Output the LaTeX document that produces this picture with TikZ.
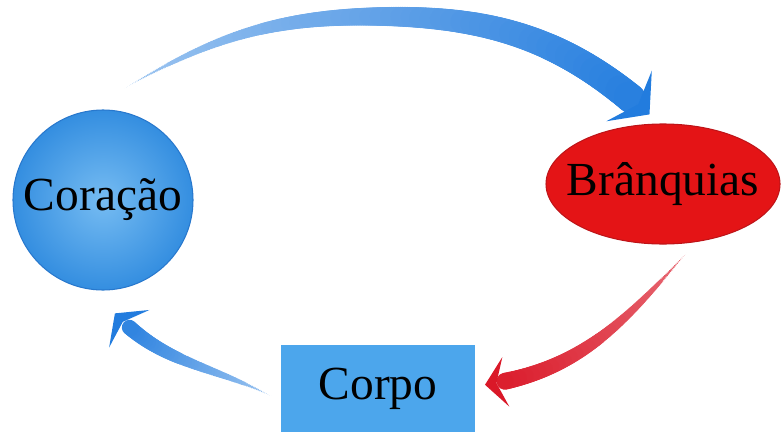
\documentclass[tikz,border=0pt]{standalone}
\usepackage{fontspec}
\setmainfont{Liberation Serif}
\usetikzlibrary{shapes.geometric,decorations.markings}

\definecolor{heartblue}{RGB}{52,142,224}
\definecolor{heartlight}{RGB}{118,188,242}
\definecolor{heartline}{RGB}{40,120,205}
\definecolor{gillred}{RGB}{228,20,22}
\definecolor{gillline}{RGB}{190,20,25}
\definecolor{bodyblue}{RGB}{76,166,236}
\definecolor{flowblue}{RGB}{34,124,222}
\definecolor{flowred}{RGB}{218,24,40}

\begin{document}
\begin{tikzpicture}[
    font=\fontsize{27}{30}\selectfont,
    organ/.style={
        inner sep=0pt,
        text=black
    },
    flow/.style n args={5}{% cor, largura, ponta (comprimento, largura), tom inicial
        preaction={decorate, decoration={markings,
            mark=between positions 0 and 1 step 1pt with {
                \pgfmathsetmacro\flowd{\pgfkeysvalueof{/pgf/decoration/mark info/distance from start}}
                \pgfmathsetmacro\flowl{\pgfdecoratedpathlength}
                \pgfmathsetmacro\flowfrac{\flowd/\flowl}
                \pgfmathsetmacro\flowrad{(\flowd < \flowl - 0.9*#3)*#2*\flowfrac*(1.6-0.6*\flowfrac)}
                \pgfmathtruncatemacro\flowpct{#5+(100-#5)*\flowfrac}
                \fill[#1!\flowpct!white] (0,0) circle (\flowrad pt);
            }}},
        postaction={decorate, decoration={markings,
            mark=at position 1 with {
                \fill[#1] (0,0) -- (-#3,#4/2) -- (-0.55*#3,0) -- (-#3,-#4/2) -- cycle;
            }}}
    }
]
\useasboundingbox (0,0) rectangle (15.62,-8.66);

% Órgãos
\node[organ, circle, minimum size=3.6cm, outer sep=0.48cm,
      inner color=heartlight, outer color=heartblue, draw=heartline, line width=0.6pt]
      (heart) at (2.06,-4.00) {Coração};

\node[organ, ellipse, minimum width=4.68cm, minimum height=2.4cm, outer sep=0.2cm,
      fill=gillred, draw=gillline, line width=0.6pt, label={center:Brânquias}]
      (gills) at (13.26,-3.68) {};

\node[organ, rectangle, minimum width=3.88cm, minimum height=1.74cm, outer sep=0.2cm,
      fill=bodyblue]
      (body) at (7.56,-7.77) {Corpo};

\coordinate (crest) at (7.6,-0.33);

% Circulação
\path[flow={flowblue}{8.5pt}{0.55cm}{1.36cm}{45}] (heart.79) to[out=30, in=180] (crest)
    to[out=0, in=138] (gills.101);
\path[flow={flowred}{5pt}{0.42cm}{1.0cm}{65}] (gills.-71) to[out=228, in=8] (body.2);
\path[flow={flowblue}{4.6pt}{0.42cm}{1.1cm}{45}] (body.184) to[out=153, in=-47] (heart.-84);

\end{tikzpicture}
\end{document}
